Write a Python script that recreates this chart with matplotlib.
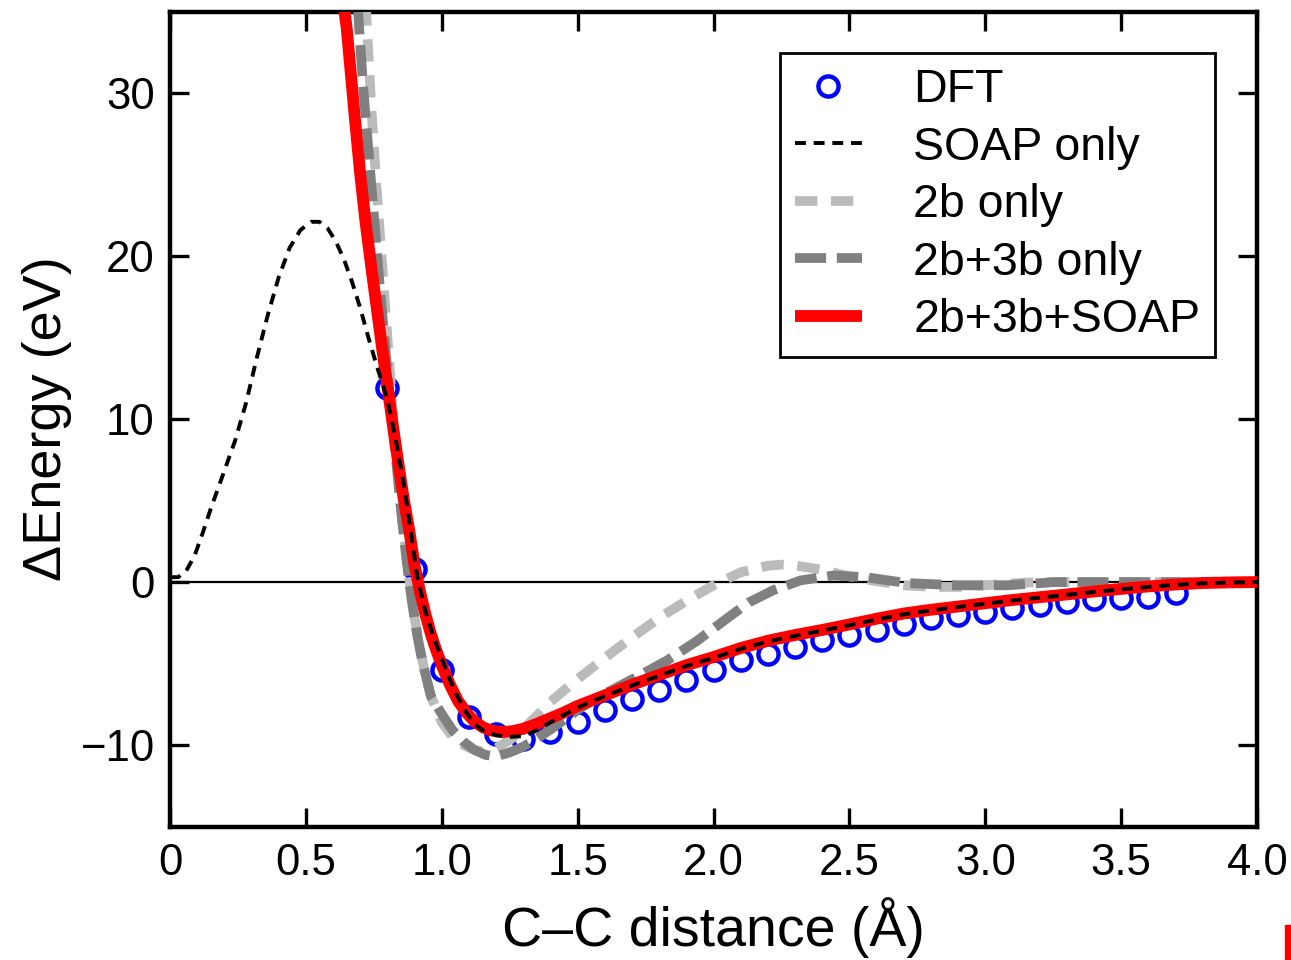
import matplotlib
matplotlib.use("Agg")
import matplotlib.pyplot as plt
from matplotlib.patches import Rectangle

plt.rcParams['font.family'] = ['Liberation Sans', 'DejaVu Sans']

# ---------------- data ----------------
dft_x = [0.8, 0.9, 1.0, 1.1, 1.2, 1.3, 1.4, 1.5, 1.6, 1.7, 1.8, 1.9, 2.0,
         2.1, 2.2, 2.3, 2.4, 2.5, 2.6, 2.7, 2.8, 2.9, 3.0, 3.1, 3.2, 3.3,
         3.4, 3.5, 3.6, 3.7]
dft_y = [11.9, 0.8, -5.4, -8.3, -9.3, -9.6, -9.2, -8.6, -7.85, -7.2, -6.6,
         -6.0, -5.4, -4.8, -4.4, -4.0, -3.55, -3.25, -2.95, -2.6, -2.2, -2.0,
         -1.85, -1.6, -1.4, -1.2, -1.05, -1.0, -0.9, -0.67]

soap_x = [0.0, 0.03, 0.06, 0.09, 0.12, 0.15, 0.18, 0.21, 0.24, 0.28, 0.32,
          0.36, 0.40, 0.44, 0.48, 0.52, 0.55, 0.58, 0.61, 0.64, 0.67, 0.70,
          0.73, 0.76, 0.80, 0.83, 0.86, 0.88, 0.91, 0.94, 0.97, 1.00, 1.03,
          1.06, 1.09, 1.12, 1.15, 1.20, 1.25, 1.30, 1.35, 1.40, 1.45, 1.50,
          1.60, 1.70, 1.80, 1.90, 2.00, 2.10, 2.20, 2.30, 2.40, 2.50, 2.60,
          2.70, 2.80, 2.90, 3.00, 3.10, 3.20, 3.30, 3.40, 3.50, 3.60, 3.70,
          3.80, 3.90, 4.00]
soap_y = [0.3, 0.3, 0.7, 1.6, 3.0, 4.5, 5.9, 7.3, 8.7, 11.0, 13.8,
          16.4, 18.7, 20.5, 21.6, 22.1, 22.1, 21.7, 20.9, 19.8, 18.4, 16.8,
          15.0, 13.3, 11.2, 8.8, 6.0, 3.8, 0.3, -1.8, -3.4, -4.7, -6.0,
          -7.1, -8.0, -8.7, -9.1, -9.4, -9.5, -9.45, -9.1, -8.6, -8.15, -7.7,
          -7.0, -6.35, -5.75, -5.15, -4.65, -4.1, -3.65, -3.3, -2.98, -2.65,
          -2.3, -1.98, -1.74, -1.53, -1.33, -1.13, -0.96, -0.79, -0.61, -0.45,
          -0.3, -0.17, -0.08, -0.03, 0.0]

b2_x = [0.72, 0.74, 0.76, 0.78, 0.80, 0.82, 0.84, 0.86, 0.88, 0.90, 0.92,
        0.94, 0.96, 1.00, 1.04, 1.08, 1.12, 1.15, 1.20, 1.25, 1.30, 1.35,
        1.40, 1.50, 1.60, 1.70, 1.80, 1.90, 2.00, 2.10, 2.20, 2.25, 2.30,
        2.40, 2.50, 2.60, 2.70, 2.80, 2.90, 3.00, 3.10, 3.20, 3.50, 4.00]
b2_y = [35.5, 29.3, 24.2, 19.6, 15.0, 10.4, 6.4, 3.0, 0.3, -2.2, -4.1,
        -5.7, -7.0, -8.6, -9.5, -10.0, -10.3, -10.4, -10.2, -9.7, -9.0, -8.2,
        -7.35, -5.95, -4.65, -3.4, -2.2, -1.15, -0.2, 0.6, 1.0, 1.07, 1.02,
        0.75, 0.35, 0.05, -0.2, -0.3, -0.3, -0.2, -0.08, 0.0, 0.0, 0.0]

b23_x = [0.69, 0.71, 0.73, 0.75, 0.77, 0.79, 0.81, 0.83, 0.85, 0.87, 0.89,
         0.91, 0.93, 0.96, 1.00, 1.04, 1.08, 1.12, 1.16, 1.20, 1.25, 1.30,
         1.35, 1.40, 1.45, 1.50, 1.56, 1.64, 1.72, 1.83, 1.94, 2.06, 2.13,
         2.22, 2.32, 2.44, 2.56, 2.71, 2.90, 3.08, 3.26, 3.50, 4.00]
b23_y = [35.5, 30.5, 26.5, 22.5, 18.5, 14.8, 11.2, 7.8, 4.4, 1.4, -1.2,
         -3.3, -5.0, -7.0, -8.1, -9.1, -9.8, -10.3, -10.6, -10.7, -10.45, -10.1,
         -9.6, -9.05, -8.45, -7.85, -7.2, -6.5, -5.8, -4.8, -3.6, -2.1, -1.25,
         -0.5, 0.1, 0.4, 0.3, -0.06, -0.2, -0.2, 0.0, 0.0, 0.0]

full_x = [0.63, 0.65, 0.68, 0.70, 0.72, 0.74, 0.76, 0.78, 0.80, 0.82, 0.84,
          0.86, 0.88, 0.90, 0.92, 0.94, 0.96, 0.98, 1.00, 1.03, 1.06, 1.09,
          1.12, 1.15, 1.18, 1.22, 1.26, 1.30, 1.35, 1.40, 1.45, 1.50, 1.60,
          1.70, 1.80, 1.90, 2.00, 2.10, 2.20, 2.30, 2.40, 2.50, 2.60, 2.70,
          2.80, 2.90, 3.00, 3.10, 3.20, 3.30, 3.40, 3.50, 3.60, 3.70, 3.80,
          3.90, 4.00]
full_y = [36.5, 34.0, 28.5, 25.0, 22.0, 19.4, 16.9, 14.4, 12.0, 9.6, 7.3,
          5.1, 3.2, 1.0, -0.6, -2.0, -3.2, -4.2, -5.1, -6.3, -7.3, -8.0,
          -8.55, -8.9, -9.1, -9.2, -9.15, -9.0, -8.7, -8.35, -8.0, -7.6, -6.95,
          -6.3, -5.7, -5.1, -4.6, -4.05, -3.6, -3.25, -2.94, -2.6, -2.25, -1.93,
          -1.7, -1.5, -1.3, -1.1, -0.93, -0.76, -0.58, -0.42, -0.27, -0.15, -0.06,
          -0.02, 0.0]

x_ticks = [0, 0.5, 1.0, 1.5, 2.0, 2.5, 3.0, 3.5, 4.0]
x_tick_labels = ["0", "0.5", "1.0", "1.5", "2.0", "2.5", "3.0", "3.5", "4.0"]
y_ticks = [-10, 0, 10, 20, 30]
y_tick_labels = ["\u221210", "0", "10", "20", "30"]

# ---------------- figure ----------------
fig = plt.figure(figsize=(12.91, 9.60), dpi=100)
ax = fig.add_axes([0.1317, 0.139, 0.842, 0.849])

ax.axhline(0, color="black", lw=1.6, zorder=1)

ax.plot(dft_x, dft_y, linestyle="none", marker="o", markersize=14.5,
        markerfacecolor="none", markeredgecolor="#0000ff",
        markeredgewidth=3.2, label="DFT", zorder=2)
ax.plot(soap_x, soap_y, color="black", lw=2.8, dashes=(2.8, 2.0),
        label="SOAP only", zorder=6)
ax.plot(b2_x, b2_y, color="#bbbbbb", lw=7.0, dashes=(2.3, 1.4),
        label="2b only", zorder=3)
ax.plot(b23_x, b23_y, color="#808080", lw=7.0, dashes=(3.2, 1.1),
        label="2b+3b only", zorder=4)
ax.plot(full_x, full_y, color="#ff0000", lw=8.5, label="2b+3b+SOAP",
        zorder=5, solid_capstyle="butt")

ax.set_xlim(0, 4.0)
ax.set_ylim(-15, 35)
ax.set_xticks(x_ticks)
ax.set_xticklabels(x_tick_labels)
ax.set_yticks(y_ticks)
ax.set_yticklabels(y_tick_labels)

ax.tick_params(axis="both", which="major", direction="in", length=14,
               width=2.4, top=True, right=True, labelsize=31.5)
ax.tick_params(axis="x", pad=12)
ax.tick_params(axis="y", pad=11)
for sp in ax.spines.values():
    sp.set_linewidth(3.2)

ax.set_xlabel("C\u2013C distance (\u00c5)", fontsize=40, labelpad=9)
ax.set_ylabel("\u0394Energy (eV)", fontsize=39, labelpad=6)

leg = ax.legend(loc="upper right", fontsize=33.5, frameon=True, fancybox=False,
                numpoints=1, handlelength=1.45, handletextpad=1.1,
                labelspacing=0.29, borderpad=0.32, borderaxespad=0.9)
leg.get_frame().set_edgecolor("black")
leg.get_frame().set_linewidth(2.0)
leg.get_frame().set_alpha(1)

fig.patches.append(Rectangle((1285 / 1291, 0), 6 / 1291, 35 / 960,
                             transform=fig.transFigure, color="#ff0000",
                             zorder=10))

fig.savefig("out.png", dpi=100)
